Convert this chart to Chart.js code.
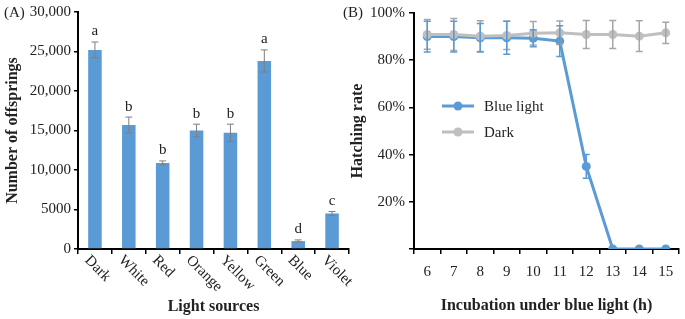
<!DOCTYPE html>
<html>
<head>
<meta charset="utf-8">
<script src="https://cdn.jsdelivr.net/npm/chart.js@4.4.1/dist/chart.umd.min.js"></script>
<style>
  body { margin: 0; background: #fff; }
  #wrap { position: relative; width: 685px; height: 319px; overflow: hidden; }
  canvas { position: absolute; top: 0; }
  #c1 { left: 0; }
  #c2 { left: 340px; }
  .tag { position: absolute; top: 4px; font: 15px "Liberation Serif", serif; color: #222; }
</style>
</head>
<body>
<div id="wrap">
  <canvas id="c1"></canvas>
  <canvas id="c2"></canvas>
  <div class="tag" style="left:4px">(A)</div>
  <div class="tag" style="left:343px">(B)</div>
</div>
<script>
// panel A
const lightSources = ['Dark', 'White', 'Red', 'Orange', 'Yellow', 'Green', 'Blue', 'Violet'];
const offspring = [25200, 15700, 10900, 15000, 14700, 23800, 1000, 4500];
const offspringErr = [1000, 1000, 250, 800, 1100, 1400, 150, 250];
const sigLetters = ['a', 'b', 'b', 'b', 'b', 'a', 'd', 'c'];

// panel B
const hours = ['6', '7', '8', '9', '10', '11', '12', '13', '14', '15'];
const blueLight = [90, 90, 89.5, 89.5, 89.3, 88.1, 35, 0, 0, 0];
const blueLightErr = [6.5, 6.5, 6, 7, 3.6, 6.5, 5, 0, 0, 0];
const dark = [90.9, 90.9, 90.2, 90.5, 91.4, 91.6, 90.9, 90.9, 90.2, 91.6];
const darkErr = [6.3, 6.8, 6.5, 6, 5, 5, 5.9, 5.9, 6.5, 4.5];

const BLUE = '#5b9bd5';
const GREY = '#bfbfbf';
const SERIF = '"Liberation Serif", "Times New Roman", serif';

function setup(id, w, h) {
  const c = document.getElementById(id);
  c.width = w; c.height = h;
  c.style.width = w + 'px'; c.style.height = h + 'px';
  return c;
}

// error bars + letters for bar chart
const barExtras = {
  id: 'barExtras',
  afterDatasetsDraw(chart) {
    const {ctx, scales: {x, y}} = chart;
    ctx.save();
    ctx.strokeStyle = '#7f7f7f';
    ctx.lineWidth = 1;
    ctx.font = '15px ' + SERIF;
    ctx.fillStyle = '#222';
    ctx.textAlign = 'center';
    ctx.textBaseline = 'bottom';
    offspring.forEach((v, i) => {
      const px = x.getPixelForValue(i);
      const top = y.getPixelForValue(v + offspringErr[i]);
      const bot = y.getPixelForValue(v - offspringErr[i]);
      ctx.beginPath();
      ctx.moveTo(px, top); ctx.lineTo(px, bot);
      ctx.moveTo(px - 3.5, top); ctx.lineTo(px + 3.5, top);
      ctx.moveTo(px - 3.5, bot); ctx.lineTo(px + 3.5, bot);
      ctx.stroke();
      ctx.fillText(sigLetters[i], px, top - 3);
    });
    // rotated category labels
    ctx.textAlign = 'left';
    ctx.textBaseline = 'middle';
    ctx.font = '15px ' + SERIF;
    lightSources.forEach((lab, i) => {
      const px = x.getPixelForValue(i);
      ctx.save();
      ctx.translate(px - 8, y.bottom + 9);
      ctx.rotate(Math.PI / 4);
      ctx.fillText(lab, 0, 0);
      ctx.restore();
    });
    ctx.restore();
  }
};

new Chart(setup('c1', 362, 319), {
  type: 'bar',
  data: {
    labels: lightSources,
    datasets: [{
      data: offspring,
      backgroundColor: BLUE,
      barPercentage: 0.4,
      categoryPercentage: 1
    }]
  },
  options: {
    responsive: false,
    animation: false,
    layout: { padding: { top: 10, right: 13, left: 0, bottom: 0 } },
    plugins: { legend: { display: false }, tooltip: { enabled: false } },
    scales: {
      x: {
        grid: { drawOnChartArea: false, color: '#000', lineWidth: 1.5, tickLength: 5, offset: true },
        border: { color: '#000', width: 2 },
        ticks: { display: false },
        title: { display: true, text: 'Light sources', color: '#222',
          font: { family: SERIF, size: 16, weight: 'bold' }, padding: { top: 0, bottom: 3 } },
        afterFit: s => { s.height = 70; }
      },
      y: {
        min: 0, max: 30000,
        ticks: {
          stepSize: 5000, color: '#222', padding: 3,
          font: { family: SERIF, size: 15 },
          callback: v => v === 5000 ? '5000' : v.toLocaleString('en-US')
        },
        grid: { drawOnChartArea: false, color: '#000', lineWidth: 1.5, tickLength: 4 },
        border: { color: '#000', width: 2 },
        title: { display: true, text: 'Number of offsprings', color: '#222',
          font: { family: SERIF, size: 16, weight: 'bold' }, padding: { top: 3, bottom: 0 } },
        afterFit: s => { s.width = 78; }
      }
    }
  },
  plugins: [barExtras]
});

// error bars + legend for line chart
const lineExtras = {
  id: 'lineExtras',
  afterDatasetsDraw(chart) {
    const {ctx, scales: {x, y}} = chart;
    ctx.save();
    ctx.lineWidth = 1.5;
    const drawErr = (vals, errs, col) => {
      ctx.strokeStyle = col;
      vals.forEach((v, i) => {
        if (!errs[i]) return;
        const px = x.getPixelForValue(i);
        const top = y.getPixelForValue(v + errs[i]);
        const bot = y.getPixelForValue(v - errs[i]);
        ctx.beginPath();
        ctx.moveTo(px, top); ctx.lineTo(px, bot);
        ctx.moveTo(px - 3.5, top); ctx.lineTo(px + 3.5, top);
        ctx.moveTo(px - 3.5, bot); ctx.lineTo(px + 3.5, bot);
        ctx.stroke();
      });
    };
    drawErr(dark, darkErr, '#a6a6a6');
    drawErr(blueLight, blueLightErr, BLUE);

    // legend inside the plot
    const items = [['Blue light', BLUE], ['Dark', GREY]];
    ctx.font = '15px ' + SERIF;
    ctx.textBaseline = 'middle';
    ctx.textAlign = 'left';
    items.forEach(([name, col], k) => {
      const ly = 106 + k * 26;
      const lx = 102;
      ctx.strokeStyle = col; ctx.lineWidth = 3;
      ctx.beginPath(); ctx.moveTo(lx, ly); ctx.lineTo(lx + 32, ly); ctx.stroke();
      ctx.fillStyle = col;
      ctx.beginPath(); ctx.arc(lx + 16, ly, 4.5, 0, Math.PI * 2); ctx.fill();
      ctx.fillStyle = '#222';
      ctx.fillText(name, lx + 42, ly + 1);
    });
    ctx.restore();
  }
};

new Chart(setup('c2', 345, 319), {
  type: 'line',
  data: {
    labels: hours,
    datasets: [
      { label: 'Blue light', data: blueLight, borderColor: BLUE, backgroundColor: BLUE,
        borderWidth: 3, pointRadius: 4.5, pointBackgroundColor: BLUE, pointBorderWidth: 0,
        tension: 0, order: 1 },
      { label: 'Dark', data: dark, borderColor: GREY, backgroundColor: GREY,
        borderWidth: 3, pointRadius: 4.5, pointBackgroundColor: GREY, pointBorderWidth: 0,
        tension: 0, order: 0 }
    ]
  },
  options: {
    responsive: false,
    animation: false,
    layout: { padding: { top: 10, right: 6, left: 0, bottom: 0 } },
    plugins: { legend: { display: false }, tooltip: { enabled: false } },
    scales: {
      x: {
        offset: true,
        grid: { drawOnChartArea: false, color: '#000', lineWidth: 1.5, tickLength: 5, offset: true },
        border: { color: '#000', width: 2 },
        ticks: { color: '#222', padding: 9, maxRotation: 0, font: { family: SERIF, size: 15 } },
        title: { display: true, text: 'Incubation under blue light (h)', color: '#222',
          font: { family: SERIF, size: 16, weight: 'bold' }, padding: { top: 0, bottom: 4 } },
        afterFit: s => { s.height = 70; }
      },
      y: {
        min: 0, max: 100,
        ticks: {
          stepSize: 20, color: '#222', padding: 4,
          font: { family: SERIF, size: 15 },
          callback: v => v === 0 ? '' : v + '%'
        },
        grid: { drawOnChartArea: false, color: '#000', lineWidth: 1.5, tickLength: 5 },
        border: { color: '#000', width: 2 },
        title: { display: true, text: 'Hatching rate', color: '#222',
          font: { family: SERIF, size: 16, weight: 'bold' }, padding: { top: 8, bottom: 0 } },
        afterFit: s => { s.width = 74; }
      }
    }
  },
  plugins: [lineExtras]
});
</script>
</body>
</html>
